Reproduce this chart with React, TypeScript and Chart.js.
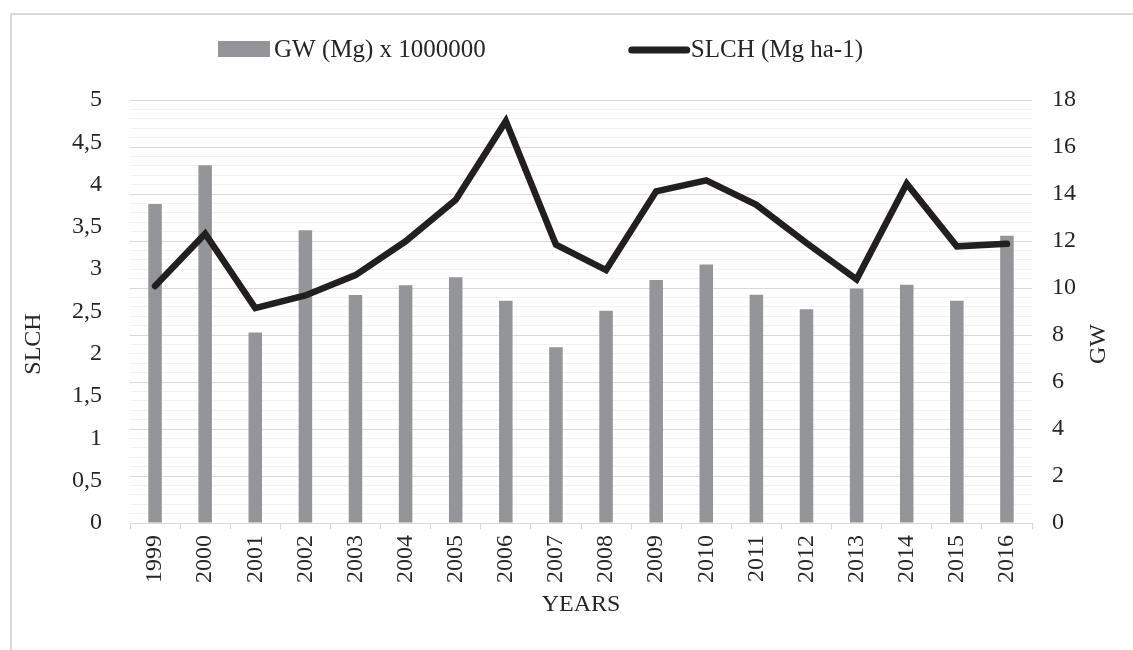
import React, { useEffect, useRef } from 'react';
import { Chart, registerables } from 'chart.js';

Chart.register(...registerables);

const years = ['1999', '2000', '2001', '2002', '2003', '2004', '2005', '2006', '2007', '2008', '2009', '2010', '2011', '2012', '2013', '2014', '2015', '2016'];
const gwValues = [13.57, 15.22, 8.11, 12.46, 9.7, 10.12, 10.46, 9.46, 7.48, 9.03, 10.34, 11.0, 9.71, 9.1, 9.98, 10.14, 9.46, 12.22];
const slchValues = [2.8, 3.42, 2.54, 2.69, 2.93, 3.33, 3.82, 4.75, 3.29, 2.99, 3.92, 4.05, 3.76, 3.31, 2.88, 4.01, 3.27, 3.3];

const gwLabel = 'GW (Mg) x 1000000';
const slchLabel = 'SLCH (Mg ha-1)';
const xTitle = 'YEARS';
const leftTitle = 'SLCH';
const rightTitle = 'GW';

const FONT = '"Liberation Serif", "Times New Roman", serif';
const TEXT = '#262626';
const BAR = '#939598';
const LINE = '#231f20';

const isMajor = (v: number) => Math.abs(v / 2 - Math.round(v / 2)) < 1e-6;

const decorPlugin = {
  id: 'decor',
  beforeDraw(chart: any) {
    const ctx = chart.ctx;
    ctx.save();
    ctx.fillStyle = '#ffffff';
    ctx.fillRect(0, 0, chart.width, chart.height);
    ctx.strokeStyle = '#d9d9d9';
    ctx.lineWidth = 2;
    ctx.strokeRect(11, 14, 1200, 700);
    ctx.restore();
  },
  afterDraw(chart: any) {
    const ctx = chart.ctx;
    const ds = chart.data.datasets;
    ctx.save();
    ctx.font = `25px ${FONT}`;
    ctx.textBaseline = 'middle';
    const y = 49;
    // GW legend item
    let x = 218;
    ctx.fillStyle = ds[1].backgroundColor;
    ctx.fillRect(x, y - 8, 52, 16);
    x += 56;
    ctx.fillStyle = TEXT;
    ctx.textAlign = 'left';
    ctx.fillText(ds[1].label, x, y + 1);
    x += ctx.measureText(ds[1].label).width + 143;
    // SLCH legend item
    ctx.strokeStyle = ds[0].borderColor;
    ctx.lineWidth = 7;
    ctx.lineCap = 'round';
    ctx.beginPath();
    ctx.moveTo(x + 3, y + 1);
    ctx.lineTo(x + 58, y + 1);
    ctx.stroke();
    x += 62;
    ctx.fillText(ds[0].label, x, y + 1);

    // rotated axis titles
    const drawRot = (text: string, cx: number, cy: number) => {
      ctx.save();
      ctx.translate(cx, cy);
      ctx.rotate(-Math.PI / 2);
      ctx.textAlign = 'center';
      ctx.textBaseline = 'middle';
      ctx.fillStyle = TEXT;
      ctx.font = `24px ${FONT}`;
      ctx.fillText(text, 0, 0);
      ctx.restore();
    };
    drawRot(leftTitle, 34, 344);
    drawRot(rightTitle, 1099, 344);
    ctx.restore();
  },
};

export default function App() {
  const canvasRef = useRef<HTMLCanvasElement | null>(null);

  useEffect(() => {
    if (!canvasRef.current) return;
    const chart = new Chart(canvasRef.current, {
      type: 'bar',
      data: {
        labels: years,
        datasets: [
          {
            type: 'line',
            label: slchLabel,
            data: slchValues,
            yAxisID: 'y',
            borderColor: LINE,
            backgroundColor: LINE,
            borderWidth: 6.5,
            borderCapStyle: 'round',
            borderJoinStyle: 'miter',
            pointRadius: 0,
            pointHoverRadius: 0,
            tension: 0,
            order: 0,
          } as any,
          {
            type: 'bar',
            label: gwLabel,
            data: gwValues,
            yAxisID: 'y1',
            backgroundColor: BAR,
            borderWidth: 0,
            categoryPercentage: 1,
            barPercentage: 0.27,
            order: 1,
          } as any,
        ],
      },
      options: {
        responsive: false,
        animation: false,
        layout: { padding: { top: 100, left: 10, right: 10, bottom: 0 } },
        plugins: {
          legend: { display: false },
          tooltip: { enabled: false },
        },
        scales: {
          x: {
            offset: true,
            grid: {
              display: true,
              offset: true,
              drawOnChartArea: false,
              drawTicks: true,
              tickLength: 6,
              color: '#d9d9d9',
            },
            border: { display: true, color: '#d9d9d9', width: 1 },
            ticks: {
              minRotation: 90,
              maxRotation: 90,
              autoSkip: false,
              padding: 6,
              color: TEXT,
              font: { family: FONT, size: 24 },
            },
            title: {
              display: true,
              text: xTitle,
              color: TEXT,
              font: { family: FONT, size: 24 },
              padding: { top: 0, bottom: 31 },
            },
            afterFit: (scale: any) => {
              scale.height = 127;
            },
          },
          y: {
            position: 'left',
            min: 0,
            max: 5,
            grid: { display: false },
            border: { display: false },
            ticks: {
              stepSize: 0.5,
              padding: 20,
              color: TEXT,
              font: { family: FONT, size: 24 },
              callback: (v: any) => String(v).replace('.', ','),
            },
            afterFit: (scale: any) => {
              scale.width = 120;
            },
          },
          y1: {
            position: 'right',
            min: 0,
            max: 18,
            grid: {
              display: true,
              drawTicks: false,
              color: (ctx: any) => (ctx.tick && isMajor(ctx.tick.value) ? '#d9d9d9' : '#f2f2f2'),
              lineWidth: 1,
            },
            border: { display: false },
            ticks: {
              stepSize: 0.4,
              autoSkip: false,
              padding: 20,
              color: TEXT,
              font: { family: FONT, size: 24 },
              callback: (v: any) => (isMajor(Number(v)) ? String(Math.round(Number(v))) : ''),
            },
            afterFit: (scale: any) => {
              scale.width = 91;
            },
          },
        },
      } as any,
      plugins: [decorPlugin],
    });
    return () => chart.destroy();
  }, []);

  return (
    <div style={{ position: 'fixed', left: 0, top: 0, width: 1133, height: 650, background: '#fff' }}>
      <canvas ref={canvasRef} width={1133} height={650} style={{ display: 'block' }} />
    </div>
  );
}
